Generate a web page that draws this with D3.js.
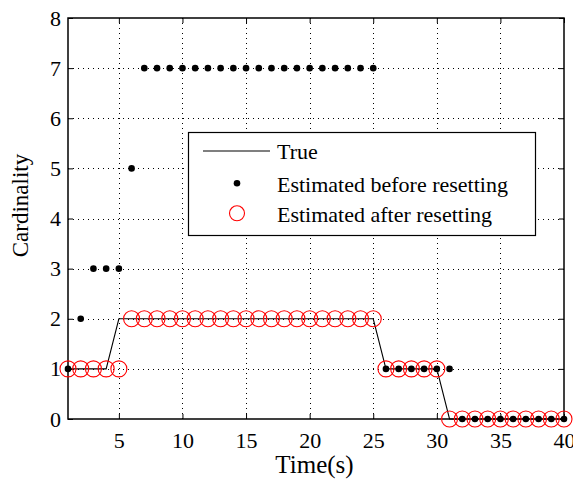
<!DOCTYPE html>
<html>
<head>
<meta charset="utf-8">
<script src="https://cdn.jsdelivr.net/npm/d3@7"></script>
<style>
  html, body { margin: 0; padding: 0; background: #fff; }
  svg { display: block; font-family: "Liberation Serif", "Times New Roman", serif; }
</style>
</head>
<body>
<svg id="chart" width="573" height="482"></svg>
<script>
// Time steps (seconds)
const times = d3.range(1, 41);
// True cardinality
const trueValues = [1,1,1,1,2,2,2,2,2,2, 2,2,2,2,2,2,2,2,2,2, 2,2,2,2,2,1,1,1,1,1, 0,0,0,0,0,0,0,0,0,0];
// Estimated cardinality before resetting
const beforeValues = [1,2,3,3,3,5,7,7,7,7, 7,7,7,7,7,7,7,7,7,7, 7,7,7,7,7,1,1,1,1,1, 1,0,0,0,0,0,0,0,0,0];
// Estimated cardinality after resetting
const afterValues = [1,1,1,1,1,2,2,2,2,2, 2,2,2,2,2,2,2,2,2,2, 2,2,2,2,2,1,1,1,1,1, 0,0,0,0,0,0,0,0,0,0];

const xTicks = [5, 10, 15, 20, 25, 30, 35, 40];
const yTicks = [0, 1, 2, 3, 4, 5, 6, 7, 8];
const legendLabels = ["True", "Estimated before resetting", "Estimated after resetting"];

const margin = { left: 68, right: 9, top: 18, bottom: 63 };
const W = 573, H = 482;
const svg = d3.select("#chart");

const x = d3.scaleLinear().domain([1, 40]).range([margin.left, W - margin.right]);
const y = d3.scaleLinear().domain([0, 8]).range([H - margin.bottom, margin.top]);

const x0 = x.range()[0], x1 = x.range()[1];
const y0 = y.range()[0], y1 = y.range()[1];

// Dotted grid
const grid = svg.append("g").attr("stroke", "#000").attr("stroke-width", 1)
  .attr("stroke-dasharray", "1,4").attr("shape-rendering", "crispEdges");
grid.selectAll(".gx").data(xTicks.filter(t => t < 40)).join("line")
  .attr("x1", d => Math.round(x(d)) + 0.5).attr("x2", d => Math.round(x(d)) + 0.5)
  .attr("y1", y1).attr("y2", y0);
grid.selectAll(".gy").data(yTicks.filter(t => t > 0 && t < 8)).join("line")
  .attr("y1", d => Math.round(y(d)) + 0.5).attr("y2", d => Math.round(y(d)) + 0.5)
  .attr("x1", x0).attr("x2", x1);

// Axes with inward ticks on all four sides
const tickLen = 5;
const fontSize = 22;
const xAxisB = d3.axisBottom(x).tickValues(xTicks).tickSize(-tickLen).tickPadding(13);
const xAxisT = d3.axisTop(x).tickValues(xTicks).tickSize(-tickLen).tickFormat("");
const yAxisL = d3.axisLeft(y).tickValues(yTicks).tickSize(-tickLen).tickPadding(7);
const yAxisR = d3.axisRight(y).tickValues(yTicks).tickSize(-tickLen).tickFormat("");

function styleAxis(g) {
  g.select(".domain").remove();
  g.selectAll("line").attr("stroke", "#000");
  g.selectAll("text").attr("font-size", fontSize).attr("fill", "#000")
    .attr("font-family", "'Liberation Serif', 'Times New Roman', serif");
}
svg.append("g").attr("transform", `translate(0,${y0})`).call(xAxisB).call(styleAxis);
svg.append("g").attr("transform", `translate(0,${y1})`).call(xAxisT).call(styleAxis);
svg.append("g").attr("transform", `translate(${x0},0)`).call(yAxisL).call(styleAxis);
svg.append("g").attr("transform", `translate(${x1},0)`).call(yAxisR).call(styleAxis);

// Plot frame
svg.append("rect").attr("x", x0).attr("y", y1).attr("width", x1 - x0).attr("height", y0 - y1)
  .attr("fill", "none").attr("stroke", "#000").attr("stroke-width", 1.5);

// True cardinality line
const line = d3.line().x((d, i) => x(times[i])).y(d => y(d));
svg.append("path").datum(trueValues).attr("d", line)
  .attr("fill", "none").attr("stroke", "#000").attr("stroke-width", 1.1);

// Estimated after resetting: red open circles
svg.append("g").selectAll("circle").data(afterValues).join("circle")
  .attr("cx", (d, i) => x(times[i])).attr("cy", d => y(d)).attr("r", 8)
  .attr("fill", "none").attr("stroke", "#ff0000").attr("stroke-width", 1.1);

// Estimated before resetting: black dots
svg.append("g").selectAll("circle").data(beforeValues).join("circle")
  .attr("cx", (d, i) => x(times[i])).attr("cy", d => y(d)).attr("r", 3.3)
  .attr("fill", "#000");

// Axis titles
svg.append("text").attr("x", 314.5).attr("y", 473).attr("text-anchor", "middle")
  .attr("font-size", 25).text("Time(s)");
svg.append("text").attr("transform", "translate(28,205.5) rotate(-90)")
  .attr("text-anchor", "middle").attr("font-size", 23).text("Cardinality");

// Legend
const lg = svg.append("g");
lg.append("rect").attr("x", 188.5).attr("y", 132.5).attr("width", 347).attr("height", 103)
  .attr("fill", "#fff").attr("stroke", "#000").attr("stroke-width", 1.2);
const symY = [151, 183.3, 213.3];
const textY = [159.3, 192.3, 221.7];
lg.append("line").attr("x1", 203).attr("x2", 270).attr("y1", symY[0]).attr("y2", symY[0])
  .attr("stroke", "#000").attr("stroke-width", 1.1);
lg.append("circle").attr("cx", 237).attr("cy", symY[1]).attr("r", 3.3).attr("fill", "#000");
lg.append("circle").attr("cx", 237).attr("cy", symY[2]).attr("r", 7.5)
  .attr("fill", "none").attr("stroke", "#ff0000").attr("stroke-width", 1.1);
lg.selectAll("text").data(legendLabels).join("text")
  .attr("x", 277).attr("y", (d, i) => textY[i])
  .attr("font-size", 22).text(d => d);
</script>
</body>
</html>
